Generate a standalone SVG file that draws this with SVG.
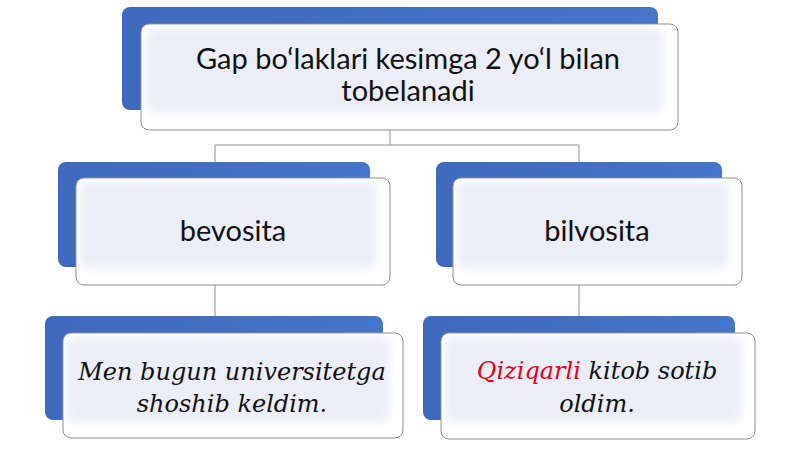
<svg xmlns="http://www.w3.org/2000/svg" width="800" height="449" viewBox="0 0 800 449">
<defs>
<linearGradient id="blue" x1="0" y1="0" x2="1" y2="0">
<stop offset="0" stop-color="#3f69bd"/>
<stop offset="1" stop-color="#4675c9"/>
</linearGradient>
<filter id="soft" x="-5%" y="-10%" width="110%" height="120%">
<feGaussianBlur stdDeviation="4"/>
</filter>
<clipPath id="c1"><rect x="141" y="24" width="537" height="106" rx="8"/></clipPath>
<clipPath id="c2"><rect x="76" y="178" width="314" height="107" rx="8"/></clipPath>
<clipPath id="c3"><rect x="453" y="178" width="289" height="107" rx="8"/></clipPath>
<clipPath id="c4"><rect x="63" y="333" width="340" height="105" rx="8"/></clipPath>
<clipPath id="c5"><rect x="441" y="333" width="314" height="106" rx="8"/></clipPath>
</defs>
<style>
.back{fill:url(#blue);}
.front{fill:#ffffff;stroke:#8e8e8e;stroke-width:1;}
.inner{fill:#ebeef6;filter:url(#soft);}
.lbl{font-family:Lato,"Noto Sans",sans-serif;font-size:29px;fill:#111;text-anchor:middle;}
.ex{font-family:"DejaVu Serif",serif;font-style:italic;font-size:24px;fill:#111;text-anchor:middle;}
.conn{fill:none;stroke:#8e8e8e;stroke-width:1;}
</style>
<g id="connectors">
<path class="conn" d="M390 130 V145 M215 145 H579 M215 145 V162 M579 145 V162"/>
<path class="conn" d="M215 285 V317"/>
<path class="conn" d="M579 285 V317"/>
</g>
<g id="node-root">
<rect class="back" x="122" y="7" width="536" height="103" rx="8"/>
<rect class="front" x="141" y="24" width="537" height="106" rx="8"/>
<rect class="inner" clip-path="url(#c1)" x="147" y="28" width="516" height="84" rx="6"/>
<text class="lbl" x="408" y="69">Gap bo‘laklari kesimga 2 yo‘l bilan</text>
<text class="lbl" x="408" y="101">tobelanadi</text>
</g>
<g id="node-bevosita">
<rect class="back" x="58" y="162" width="312" height="105" rx="8"/>
<rect class="front" x="76" y="178" width="314" height="107" rx="8"/>
<rect class="inner" clip-path="url(#c2)" x="80" y="182" width="296" height="86" rx="6"/>
<text class="lbl" x="233" y="241">bevosita</text>
</g>
<g id="node-bilvosita">
<rect class="back" x="436" y="162" width="286" height="105" rx="8"/>
<rect class="front" x="453" y="178" width="289" height="107" rx="8"/>
<rect class="inner" clip-path="url(#c3)" x="457" y="182" width="271" height="86" rx="6"/>
<text class="lbl" x="597" y="241">bilvosita</text>
</g>
<g id="node-example1">
<rect class="back" x="45" y="316" width="338" height="104" rx="8"/>
<rect class="front" x="63" y="333" width="340" height="105" rx="8"/>
<rect class="inner" clip-path="url(#c4)" x="67" y="337" width="322" height="84" rx="6"/>
<text class="ex" x="232" y="380">Men bugun universitetga</text>
<text class="ex" x="232" y="412">shoshib keldim.</text>
</g>
<g id="node-example2">
<rect class="back" x="423" y="316" width="312" height="104" rx="8"/>
<rect class="front" x="441" y="333" width="314" height="106" rx="8"/>
<rect class="inner" clip-path="url(#c5)" x="445" y="337" width="296" height="84" rx="6"/>
<text class="ex" x="597" y="379"><tspan fill="#e8001c">Qiziqarli</tspan> kitob sotib</text>
<text class="ex" x="597" y="412">oldim.</text>
</g>
</svg>
